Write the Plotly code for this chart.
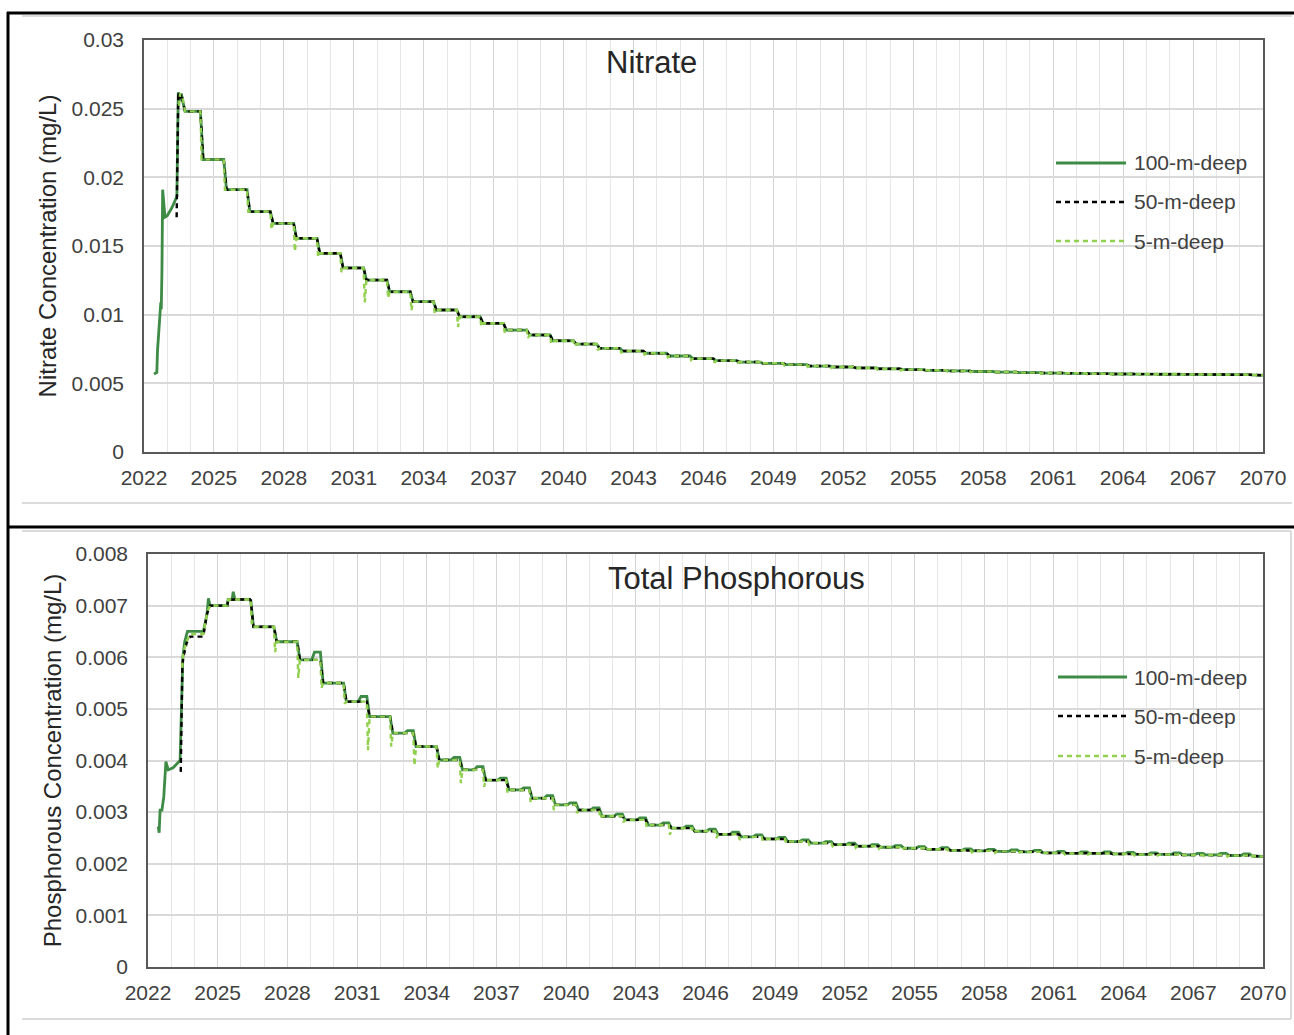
import plotly.graph_objects as go

# ---------------- DATA ----------------
# x-axis tick labels (every 3 years) and the yearly minor grid positions
x_tick_years = [2022, 2025, 2028, 2031, 2034, 2037, 2040, 2043, 2046, 2049, 2052, 2055,
                2058, 2061, 2064, 2067, 2070]
x_tick_labels = ["2022", "2025", "2028", "2031", "2034", "2037", "2040", "2043", "2046",
                 "2049", "2052", "2055", "2058", "2061", "2064", "2067", "2070"]
x_minor_years = [2023, 2024, 2026, 2027, 2029, 2030, 2032, 2033, 2035, 2036, 2038, 2039,
                 2041, 2042, 2044, 2045, 2047, 2048, 2050, 2051, 2053, 2054, 2056, 2057,
                 2059, 2060, 2062, 2063, 2065, 2066, 2068, 2069]

# annual step times (year fraction at which each yearly step occurs)
step_years = [2024.45, 2025.45, 2026.45, 2027.45, 2028.45, 2029.45, 2030.45, 2031.45,
              2032.45, 2033.45, 2034.45, 2035.45, 2036.45, 2037.45, 2038.45, 2039.45,
              2040.45, 2041.45, 2042.45, 2043.45, 2044.45, 2045.45, 2046.45, 2047.45,
              2048.45, 2049.45, 2050.45, 2051.45, 2052.45, 2053.45, 2054.45, 2055.45,
              2056.45, 2057.45, 2058.45, 2059.45, 2060.45, 2061.45, 2062.45, 2063.45,
              2064.45, 2065.45, 2066.45, 2067.45, 2068.45, 2069.45]
end_year = 2070

# ---- Nitrate (mg/L) ----
n100_pre_x = [2022.43, 2022.55, 2022.58, 2022.64, 2022.7, 2022.72, 2022.74, 2022.77, 2022.8,
              2022.9, 2023.0, 2023.2, 2023.41, 2023.47, 2023.53, 2023.6, 2023.68, 2023.76]
n100_pre_y = [0.00568, 0.0058, 0.0074, 0.0087, 0.0105, 0.0109, 0.0104, 0.0132, 0.0191,
              0.0171, 0.0172, 0.0178, 0.0186, 0.0262, 0.0256, 0.0261, 0.0254, 0.0248]
n50_pre_x = [2023.4, 2023.47, 2023.53, 2023.6, 2023.68, 2023.76]
n50_pre_y = [0.0171, 0.0262, 0.0256, 0.0261, 0.0254, 0.0248]
n5_pre_x = [2023.5, 2023.55, 2023.62, 2023.68, 2023.76]
n5_pre_y = [0.0252, 0.0261, 0.0260, 0.0256, 0.0248]
# level after each yearly step, 2024 ... 2069
n_levels = [0.0213, 0.0191, 0.0175, 0.01665, 0.01556, 0.01447, 0.0134, 0.01252,
            0.01167, 0.01095, 0.01034, 0.00985, 0.00937, 0.00888, 0.00852, 0.0081,
            0.00786, 0.00755, 0.00735, 0.00719, 0.00699, 0.0068, 0.00665, 0.00655,
            0.00646, 0.00636, 0.00626, 0.00619, 0.00612, 0.00606, 0.006, 0.00595,
            0.0059, 0.00586, 0.00582, 0.00578, 0.00575, 0.00573, 0.0057, 0.00568,
            0.00567, 0.00566, 0.00565, 0.00564, 0.00563, 0.00561]
# 5-m-deep dip at each step
n5_dips = [0.0213, 0.0191, 0.0175, 0.0162, 0.0146, 0.0142, 0.0131, 0.0109,
           0.0112, 0.0103, 0.0101, 0.0091, 0.0091, 0.0087, 0.0083, 0.0079,
           0.0077, 0.0074, 0.0072, 0.0071, 0.0069, 0.0067, 0.0065, 0.0065,
           0.0064, 0.0063, 0.0062, 0.00612, 0.00605, 0.006, 0.00594, 0.00589,
           0.00585, 0.0058, 0.00577, 0.00573, 0.0057, 0.00568, 0.00566, 0.00564,
           0.00563, 0.00562, 0.00561, 0.0056, 0.00559, 0.00557]
n_end = 0.00559

# ---- Total Phosphorous (mg/L) ----
p100_pre_x = [2022.44, 2022.48, 2022.52, 2022.6, 2022.68, 2022.77, 2022.87, 2023.08, 2023.38,
              2023.45, 2023.5, 2023.58, 2023.7, 2023.81, 2024.38, 2024.47, 2024.55, 2024.6,
              2024.67, 2025.41, 2025.45, 2025.62, 2025.67, 2025.74, 2026.43]
p100_pre_y = [0.00272, 0.0026, 0.00304, 0.00304, 0.0033, 0.00398, 0.00382, 0.00386, 0.0040,
              0.0052, 0.0060, 0.0063, 0.0065, 0.0065, 0.0065, 0.00668, 0.00688, 0.00714,
              0.0070, 0.0070, 0.00712, 0.00712, 0.00727, 0.00712, 0.00712]
p50_pre_x = [2023.41, 2023.48, 2023.52, 2023.66, 2023.81, 2024.38, 2024.47, 2024.55, 2024.67,
             2025.41, 2025.45, 2025.74, 2026.43]
p50_pre_y = [0.00378, 0.00585, 0.0060, 0.00627, 0.0064, 0.0064, 0.00666, 0.00685, 0.0070,
             0.0070, 0.00711, 0.00712, 0.00712]
p5_pre_x = [2023.47, 2023.52, 2023.66, 2023.81, 2024.38, 2024.47, 2024.55, 2024.67,
            2025.41, 2025.45, 2025.74, 2026.43]
p5_pre_y = [0.0058, 0.0061, 0.0063, 0.00645, 0.00645, 0.00668, 0.00688, 0.0070,
            0.0070, 0.00712, 0.00712, 0.00712]
# level after each yearly step, 2026 ... 2069
p_levels = [0.00659, 0.0063, 0.00595, 0.0055, 0.00514, 0.00485, 0.00453, 0.00427,
            0.00401, 0.00382, 0.00362, 0.00343, 0.00327, 0.00314, 0.00304, 0.00292,
            0.00285, 0.00275, 0.00269, 0.00263, 0.00257, 0.00252, 0.00248, 0.00243,
            0.0024, 0.00237, 0.00234, 0.00232, 0.0023, 0.00228, 0.00226, 0.00225,
            0.00224, 0.00223, 0.00221, 0.0022, 0.0022, 0.00219, 0.00218, 0.00218,
            0.00217, 0.00217, 0.00216, 0.00215]
# 100-m-deep small rise just before the next step
p100_bumps = [0.00659, 0.0063, 0.0061, 0.0055, 0.00524, 0.00485, 0.00458, 0.00427,
              0.00406, 0.00388, 0.00366, 0.00347, 0.00332, 0.00318, 0.00308, 0.00296,
              0.00289, 0.00279, 0.00273, 0.00267, 0.00261, 0.00256, 0.00251, 0.00246,
              0.00243, 0.0024, 0.00237, 0.00235, 0.00233, 0.00231, 0.00229, 0.00228,
              0.00227, 0.00226, 0.00224, 0.00223, 0.00223, 0.00222, 0.00221, 0.00221,
              0.0022, 0.0022, 0.00219, 0.00215]
# 5-m-deep dip at each step
p5_dips = [0.00659, 0.0061, 0.0056, 0.0054, 0.0051, 0.0042, 0.00427, 0.0039,
           0.00385, 0.00356, 0.00349, 0.00338, 0.0032, 0.00304, 0.00298, 0.00288,
           0.0028, 0.00271, 0.00256, 0.0026, 0.0025, 0.00246, 0.00244, 0.0024,
           0.00237, 0.00234, 0.00231, 0.00229, 0.00227, 0.00225, 0.00223, 0.00222,
           0.00221, 0.0022, 0.00219, 0.00218, 0.00218, 0.00217, 0.00216, 0.00216,
           0.00215, 0.00215, 0.00214, 0.00213]
p_end = 0.00214

series_names = ["100-m-deep", "50-m-deep", "5-m-deep"]
series_colors = ["#3d8b45", "#000000", "#92d050"]

# ---------------- HELPERS ----------------
W, H = 1294, 1035


def fx(p):
    return p / W


def fy(p):
    return 1 - p / H


def staircase(pre_x, pre_y, steps, levels, end_y, dips=None, bumps=None):
    xs, ys = list(pre_x), list(pre_y)
    hold = ys[-1]
    for i, (s, lv) in enumerate(zip(steps, levels)):
        xs.append(s - 0.03)
        ys.append(hold)
        if dips is not None:
            xs.append(s + 0.02)
            ys.append(dips[i])
        xs.append(s + 0.09)
        ys.append(lv)
        hold = lv
        if bumps is not None and bumps[i] != lv:
            xs += [s + 0.6, s + 0.72]
            ys += [lv, bumps[i]]
            hold = bumps[i]
    xs.append(end_year)
    ys.append(end_y)
    return xs, ys


fig = go.Figure()
DASH = "5px,4px"
W100, WDASH = 2.8, 2.4

# Nitrate traces
nx1, ny1 = staircase(n100_pre_x, n100_pre_y, step_years, n_levels, n_end)
nx2, ny2 = staircase(n50_pre_x, n50_pre_y, step_years, n_levels, n_end)
nx3, ny3 = staircase(n5_pre_x, n5_pre_y, step_years, n_levels, n_end, dips=n5_dips)
fig.add_trace(go.Scatter(x=nx1, y=ny1, mode="lines", name=series_names[0],
                         line=dict(color=series_colors[0], width=W100), xaxis="x", yaxis="y"))
fig.add_trace(go.Scatter(x=nx2, y=ny2, mode="lines", name=series_names[1],
                         line=dict(color=series_colors[1], width=WDASH, dash=DASH), xaxis="x", yaxis="y"))
fig.add_trace(go.Scatter(x=nx3, y=ny3, mode="lines", name=series_names[2],
                         line=dict(color=series_colors[2], width=WDASH, dash=DASH), xaxis="x", yaxis="y"))

# Phosphorous traces
ps = step_years[2:]
px1, py1 = staircase(p100_pre_x, p100_pre_y, ps, p_levels, p_end, bumps=p100_bumps)
px2, py2 = staircase(p50_pre_x, p50_pre_y, ps, p_levels, p_end)
px3, py3 = staircase(p5_pre_x, p5_pre_y, ps, p_levels, p_end, dips=p5_dips)
fig.add_trace(go.Scatter(x=px1, y=py1, mode="lines", name=series_names[0],
                         line=dict(color=series_colors[0], width=W100), xaxis="x2", yaxis="y2"))
fig.add_trace(go.Scatter(x=px2, y=py2, mode="lines", name=series_names[1],
                         line=dict(color=series_colors[1], width=WDASH, dash=DASH), xaxis="x2", yaxis="y2"))
fig.add_trace(go.Scatter(x=px3, y=py3, mode="lines", name=series_names[2],
                         line=dict(color=series_colors[2], width=WDASH, dash=DASH), xaxis="x2", yaxis="y2"))

FONT = "Liberation Sans, Arial, sans-serif"
TICKC = "#404040"
xcommon = dict(range=[2022, 2070], tickmode="array", tickvals=x_tick_years, ticktext=x_tick_labels,
               showgrid=True, gridcolor="#d4d4d4", gridwidth=1,
               minor=dict(tickmode="array", tickvals=x_minor_years, showgrid=True,
                          gridcolor="#e6e6e6", gridwidth=1, ticks=""),
               showline=True, linecolor="#595959", linewidth=1.5, mirror=True,
               ticks="", zeroline=False, automargin=False,
               tickfont=dict(family=FONT, size=21, color=TICKC), ticklabelstandoff=6)
ycommon = dict(showgrid=True, gridcolor="#d9d9d9", gridwidth=1.5,
               showline=True, linecolor="#595959", linewidth=1.5, mirror=True,
               ticks="", zeroline=False, automargin=False,
               tickfont=dict(family=FONT, size=21, color=TICKC), ticklabelstandoff=14)

fig.update_layout(
    width=W, height=H, margin=dict(l=0, r=0, t=0, b=0),
    paper_bgcolor="white", plot_bgcolor="white", showlegend=False,
    font=dict(family=FONT, color="#262626"),
    xaxis=dict(domain=[fx(144), fx(1263)], anchor="y", **xcommon),
    yaxis=dict(domain=[fy(452), fy(40)], anchor="x", range=[0, 0.03], dtick=0.005,
               title=dict(text="Nitrate Concentration (mg/L)",
                          font=dict(family=FONT, size=24, color="#262626"), standoff=8),
               **ycommon),
    xaxis2=dict(domain=[fx(148), fx(1263)], anchor="y2", **xcommon),
    yaxis2=dict(domain=[fy(967), fy(554)], anchor="x2", range=[0, 0.008], dtick=0.001,
                title=dict(text="Phosphorous Concentration (mg/L)",
                           font=dict(family=FONT, size=24, color="#262626"), standoff=7),
                **ycommon),
)

shapes = []
annotations = []


# frame decorations
def hline(y, x0, x1, color, width):
    shapes.append(dict(type="line", xref="paper", yref="paper", x0=fx(x0), x1=fx(x1),
                       y0=fy(y), y1=fy(y), line=dict(color=color, width=width)))


def vline(x, y0, y1, color, width):
    shapes.append(dict(type="line", xref="paper", yref="paper", x0=fx(x), x1=fx(x),
                       y0=fy(y0), y1=fy(y1), line=dict(color=color, width=width)))


hline(16, 22, 1292, "#cfcfcf", 1.5)
hline(503, 22, 1292, "#cfcfcf", 1.5)
hline(531, 22, 1291, "#cfcfcf", 1.5)
hline(1019, 22, 1291, "#cfcfcf", 1.5)
vline(1291, 531, 1019, "#cfcfcf", 1.5)
hline(13, 7, 1294, "#000000", 3)
hline(527, 7, 1294, "#000000", 3)
vline(8, 12, 1035, "#000000", 3)

# titles
annotations.append(dict(text="Nitrate", xref="paper", yref="paper", x=fx(651), y=fy(63),
                        xanchor="center", yanchor="middle", showarrow=False,
                        font=dict(family=FONT, size=31, color="#262626")))
annotations.append(dict(text="Total Phosphorous", xref="paper", yref="paper", x=fx(736), y=fy(578),
                        xanchor="center", yanchor="middle", showarrow=False,
                        font=dict(family=FONT, size=31, color="#262626")))

# legends
leg_styles = [dict(color=series_colors[0], width=W100),
              dict(color=series_colors[1], width=WDASH, dash=DASH),
              dict(color=series_colors[2], width=WDASH, dash=DASH)]
for rows, lx0, lx1 in [([163, 202, 241], 1056, 1126), ([677, 716, 756], 1058, 1127)]:
    for name, ry, st in zip(series_names, rows, leg_styles):
        shapes.append(dict(type="line", xref="paper", yref="paper", x0=fx(lx0), x1=fx(lx1),
                           y0=fy(ry), y1=fy(ry), line=st))
        annotations.append(dict(text=name, xref="paper", yref="paper", x=fx(1132), y=fy(ry),
                                xanchor="left", yanchor="middle", showarrow=False,
                                font=dict(family=FONT, size=21, color=TICKC)))

fig.update_layout(shapes=shapes, annotations=annotations)
fig.write_html("out.html")
